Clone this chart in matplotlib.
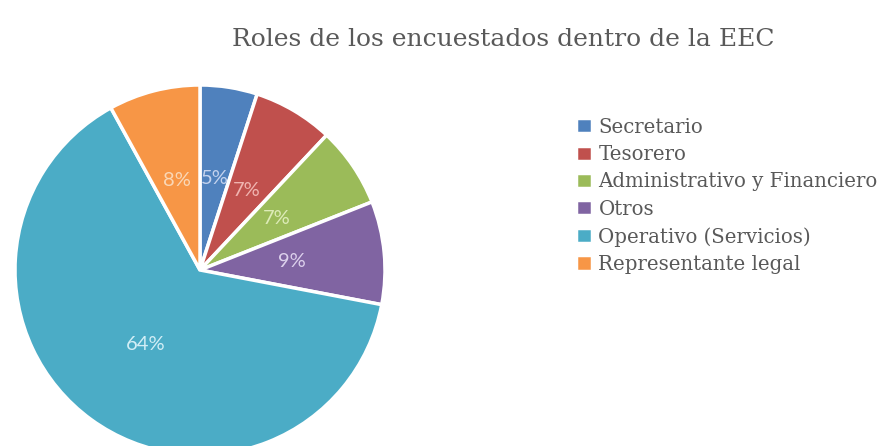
import matplotlib.pyplot as plt

# datos
roles = ["Secretario", "Tesorero", "Administrativo y Financiero", "Otros",
         "Operativo (Servicios)", "Representante legal"]
porcentajes = [5, 7, 7, 9, 64, 8]
colores = ["#4F81BD", "#C0504D", "#9BBB59", "#8064A2", "#4BACC6", "#F79646"]
colores_texto = ["#C4D3EE", "#F0B4B0", "#DDEBB8", "#DCD0EC", "#D2EEF6", "#FAD7B6"]

fig = plt.figure(figsize=(8.85, 4.46), dpi=100)
W, H = 885, 446
cx, cy, r = 200, 270, 185
ax = fig.add_axes([(cx - r) / W, (H - cy - r) / H, 2 * r / W, 2 * r / H])

wedges, textos = ax.pie(
    porcentajes, colors=colores, startangle=90, counterclock=False,
    labels=[f"{p}%" for p in porcentajes], labeldistance=0.5,
    wedgeprops=dict(edgecolor="white", linewidth=2.5),
    textprops=dict(fontsize=14.5, family="Lato"),
)
for t, c in zip(textos, colores_texto):
    t.set_color(c)
    t.set_ha("center")
    t.set_va("center")
ax.set_xlim(-1, 1)
ax.set_ylim(-1, 1)
for w in wedges:
    w.set_clip_on(False)

fig.text(503 / W, 1 - 40 / H, "Roles de los encuestados dentro de la EEC",
         ha="center", va="center", fontsize=18, family="DejaVu Serif", color="#595959")

fig.legend(wedges, roles, loc="upper left", bbox_to_anchor=(560 / W, 1 - 102 / H),
           frameon=False, prop=dict(family="DejaVu Serif", size=14.2),
           handlelength=0.8, handleheight=0.8, handletextpad=0.35,
           labelspacing=0.42, borderpad=0.3, labelcolor="#595959")

fig.savefig("out.png", dpi=100)
